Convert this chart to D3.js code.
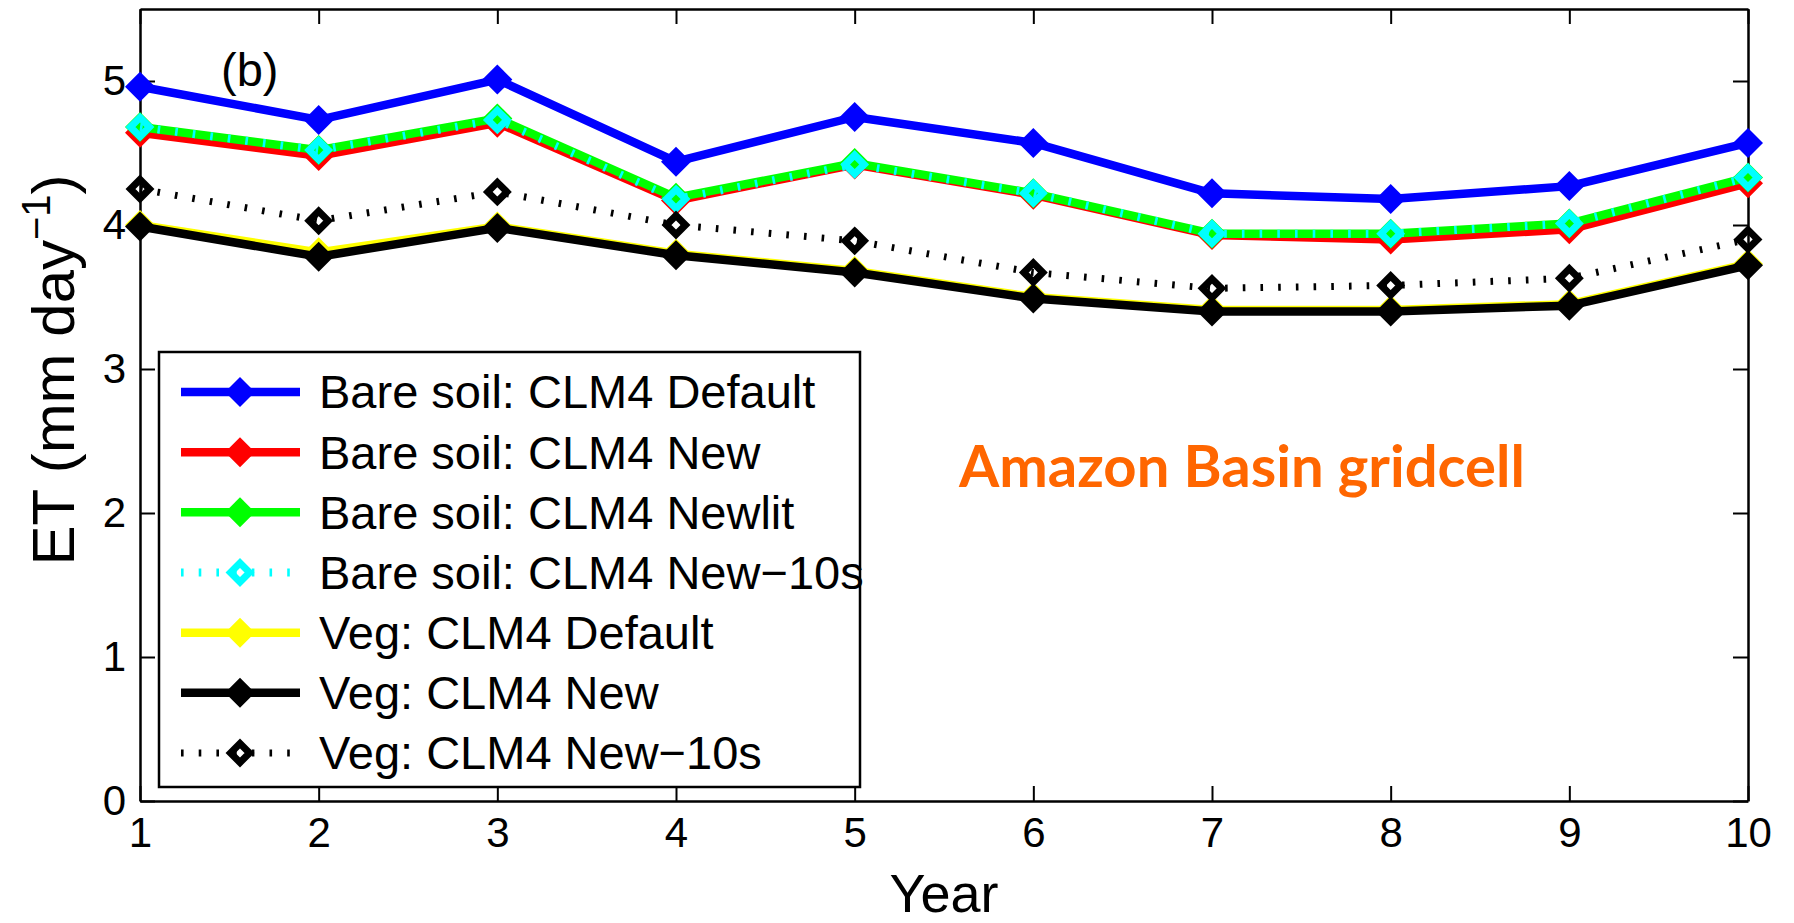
<!DOCTYPE html>
<html lang="en">
<head>
<meta charset="UTF-8">
<title>ET Amazon Basin</title>
<script src="https://cdn.jsdelivr.net/npm/d3@7"></script>
<style>
body{margin:0;background:#fff}
svg{display:block}
</style>
</head>
<body>
<div id="root"></div>
<script>
// ---- data ----
let years = [1,2,3,4,5,6,7,8,9,10]
let bareDefault = [4.96,4.73,5.01,4.44,4.75,4.57,4.22,4.18,4.27,4.57]
let bareNew     = [4.64,4.48,4.71,4.17,4.42,4.21,3.93,3.90,3.97,4.29]
let bareNewlit  = [4.68,4.52,4.74,4.19,4.43,4.22,3.94,3.94,4.01,4.33]
let bareNew10s  = [4.68,4.52,4.73,4.18,4.42,4.22,3.94,3.94,4.01,4.33]
let vegDefault  = [4.00,3.81,3.99,3.80,3.68,3.50,3.41,3.41,3.45,3.73]
let vegNew      = [3.99,3.78,3.98,3.79,3.67,3.49,3.40,3.40,3.44,3.72]
let vegNew10s   = [4.25,4.03,4.23,4.00,3.89,3.67,3.56,3.58,3.63,3.90]
let yTicks = [0,1,2,3,4,5]
let xTicks = years

let series = [
  {name:"Bare soil: CLM4 Default", values:bareDefault, color:"#0000ff", dotted:false},
  {name:"Bare soil: CLM4 New",     values:bareNew,     color:"#ff0000", dotted:false},
  {name:"Bare soil: CLM4 Newlit",  values:bareNewlit,  color:"#00ff00", dotted:false},
  {name:"Bare soil: CLM4 New\u221210s", values:bareNew10s, color:"#00ffff", dotted:true},
  {name:"Veg: CLM4 Default",       values:vegDefault,  color:"#ffff00", dotted:false},
  {name:"Veg: CLM4 New",           values:vegNew,      color:"#000000", dotted:false},
  {name:"Veg: CLM4 New\u221210s",  values:vegNew10s,   color:"#000000", dotted:true}
]

let width = 1794, height = 923
let pLeft = 140, pRight = 1748, pTop = 9, pBottom = 801
let font = '"Liberation Sans", Arial, Helvetica, sans-serif'

let svg = d3.select("#root").append("svg").attr("width",width).attr("height",height)
  .style("background","#fff")

let x = d3.scaleLinear().domain([1,10]).range([pLeft,pRight])
let y = d3.scaleLinear().domain([0,5.5]).range([pBottom,pTop])

function diamond(r){
  return "M0,"+(-r)+"L"+r+",0L0,"+r+"L"+(-r)+",0Z"
}

// axes box, ticks pointing inward (matlab style)
function styleAxis(g){
  g.attr("font-size",42).attr("font-family",font)
  g.selectAll("path.domain").attr("stroke","#000").attr("stroke-width",2.5)
  g.selectAll(".tick line").attr("stroke","#000").attr("stroke-width",2)
  g.selectAll(".tick text").attr("fill","#000")
}

svg.append("g").attr("transform","translate(0,"+pBottom+")")
  .call(d3.axisBottom(x).tickValues(xTicks).tickSizeInner(-15).tickSizeOuter(0).tickPadding(16).tickFormat(d3.format("d")))
  .call(styleAxis)
svg.append("g").attr("transform","translate(0,"+pTop+")")
  .call(d3.axisTop(x).tickValues(xTicks).tickSizeInner(-15).tickSizeOuter(0).tickFormat(""))
  .call(styleAxis)
svg.append("g").attr("transform","translate("+pLeft+",0)")
  .call(d3.axisLeft(y).tickValues(yTicks).tickSizeInner(-15).tickSizeOuter(0).tickPadding(14).tickFormat(d3.format("d")))
  .call(styleAxis)
svg.append("g").attr("transform","translate("+pRight+",0)")
  .call(d3.axisRight(y).tickValues(yTicks).tickSizeInner(-15).tickSizeOuter(0).tickFormat(""))
  .call(styleAxis)

// lines + markers
let line = d3.line().x((d,i)=>x(years[i])).y(d=>y(d))

function drawLine(g, s, path){
  if(s.dotted){
    g.append("path").attr("d",path).attr("fill","none").attr("stroke",s.color)
      .attr("stroke-width",s.color=="#000000"?7:8).attr("stroke-dasharray","2.6 15.1")
  } else {
    g.append("path").attr("d",path).attr("fill","none").attr("stroke",s.color)
      .attr("stroke-width",8.5).attr("stroke-linejoin","round")
  }
}
function drawMarker(sel, s){
  if(s.dotted){
    sel.attr("d",diamond(9.5)).attr("fill","none").attr("stroke",s.color)
      .attr("stroke-width",7).attr("stroke-linejoin","miter")
  } else {
    sel.attr("d",diamond(15)).attr("fill",s.color).attr("stroke","none")
  }
}

series.forEach(s=>{
  let g = svg.append("g")
  drawLine(g, s, line(s.values))
  g.selectAll("path.mk").data(s.values).enter().append("path").classed("mk",true)
    .attr("transform",(d,i)=>"translate("+x(years[i])+","+y(d)+")")
    .each(function(){ drawMarker(d3.select(this), s) })
})

// y label
let yl = svg.append("text").attr("transform","translate(74,370) rotate(-90)")
  .attr("text-anchor","middle").attr("font-family",font).attr("font-size",60).attr("fill","#000")
yl.append("tspan").text("ET (mm day")
yl.append("tspan").attr("font-size",40).attr("dy",-24).text("\u22121")
yl.append("tspan").attr("dy",24).text(")")

// x label
svg.append("text").attr("x",(pLeft+pRight)/2).attr("y",912).attr("text-anchor","middle")
  .attr("font-family",font).attr("font-size",54).attr("fill","#000").text("Year")

// panel label
svg.append("text").attr("x",221).attr("y",86).attr("font-family",font).attr("font-size",47)
  .attr("fill","#000").text("(b)")

// annotation
svg.append("text").attr("x",959).attr("y",487).attr("font-family","Lato, 'Open Sans', sans-serif")
  .attr("font-weight","bold").attr("font-size",58).attr("fill","#ff6600").text("Amazon Basin gridcell")

// legend
let lg = svg.append("g").attr("transform","translate(159,352)")
lg.append("rect").attr("width",701).attr("height",435).attr("fill","#fff")
  .attr("stroke","#000").attr("stroke-width",2.5)
let rowY = d3.scaleLinear().domain([0,6]).range([40,401])
series.forEach((s,i)=>{
  let row = lg.append("g").attr("transform","translate(0,"+rowY(i)+")")
  drawLine(row, s, "M22,0L141,0")
  drawMarker(row.append("path").attr("transform","translate(81,0)"), s)
  row.append("text").attr("x",160).attr("dy","0.35em").attr("font-family",font)
    .attr("font-size",47).attr("fill","#000").text(s.name)
})
</script>
</body>
</html>
